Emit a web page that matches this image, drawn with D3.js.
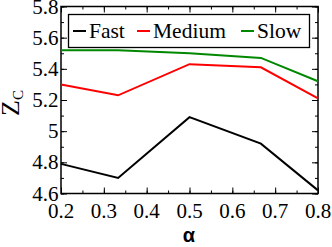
<!DOCTYPE html>
<html>
<head>
<meta charset="utf-8">
<script src="https://cdn.jsdelivr.net/npm/d3@7"></script>
<style>
  body { margin: 0; background: #fff; }
</style>
</head>
<body>
<svg id="chart" width="332" height="247" font-family="Liberation Serif"></svg>
<script>
// data
var alphas = [0.2, 1 / 3, 0.5, 2 / 3, 0.8]
var fast = [4.79, 4.70, 5.09, 4.92, 4.62]
var medium = [5.30, 5.23, 5.43, 5.41, 5.21]
var slow = [5.52, 5.52, 5.50, 5.47, 5.32]
var seriesNames = ['Fast', 'Medium', 'Slow']
var seriesColors = ['#000000', '#ff0000', '#008800']
var xTicks = [0.2, 0.3, 0.4, 0.5, 0.6, 0.7, 0.8]
var yTicks = [4.6, 4.8, 5, 5.2, 5.4, 5.6, 5.8]

var serif = 'Liberation Serif'

function draw() {
  var svg = d3.select('#chart')
  var x0 = 61, x1 = 318, y0 = 6.5, y1 = 193.5

  var x = d3.scaleLinear().domain([0.2, 0.8]).range([x0, x1])
  var y = d3.scaleLinear().domain([4.6, 5.8]).range([y1, y0])

  // minor ticks
  var xMinor = d3.range(0.2, 0.8001, 0.05)
  var yMinor = d3.range(4.6, 5.8001, 0.1)

  function tickAxis(axis, ticks, size) {
    return axis.tickValues(ticks).tickSize(size).tickFormat('')
  }

  var g = svg.append('g')

  // inward ticks on all four sides
  g.append('g').attr('transform', 'translate(0,' + y1 + ')')
    .call(tickAxis(d3.axisTop(x), xMinor, 3))
  g.append('g').attr('transform', 'translate(0,' + y1 + ')')
    .call(tickAxis(d3.axisTop(x), xTicks, 6))
  g.append('g').attr('transform', 'translate(0,' + y0 + ')')
    .call(tickAxis(d3.axisBottom(x), xMinor, 3))
  g.append('g').attr('transform', 'translate(0,' + y0 + ')')
    .call(tickAxis(d3.axisBottom(x), xTicks, 6))
  g.append('g').attr('transform', 'translate(' + x0 + ',0)')
    .call(tickAxis(d3.axisRight(y), yMinor, 3))
  g.append('g').attr('transform', 'translate(' + x0 + ',0)')
    .call(tickAxis(d3.axisRight(y), yTicks, 6))
  g.append('g').attr('transform', 'translate(' + x1 + ',0)')
    .call(tickAxis(d3.axisLeft(y), yMinor, 3))
  g.append('g').attr('transform', 'translate(' + x1 + ',0)')
    .call(tickAxis(d3.axisLeft(y), yTicks, 6))
  g.selectAll('.domain').remove()
  g.selectAll('.tick line').attr('stroke', '#000').attr('stroke-width', 1)

  // frame
  svg.append('rect')
    .attr('x', x0).attr('y', y0)
    .attr('width', x1 - x0).attr('height', y1 - y0)
    .attr('fill', 'none').attr('stroke', '#000').attr('stroke-width', 1.5)

  // tick labels
  svg.selectAll('.xlab').data(xTicks).enter().append('text')
    .attr('x', function (d) { return x(d) })
    .attr('y', 217.5)
    .attr('text-anchor', 'middle')
    .attr('font-family', serif)
    .attr('font-size', 21)
    .text(function (d) { return d3.format('.1f')(d) })

  svg.selectAll('.ylab').data(yTicks).enter().append('text')
    .attr('x', 58.5)
    .attr('y', function (d) { return y(d) + 7 })
    .attr('text-anchor', 'end')
    .attr('font-family', serif)
    .attr('font-size', 21)
    .text(function (d) { return d === 5 ? '5' : d3.format('.1f')(d) })

  // lines
  var line = d3.line()
    .x(function (d, i) { return x(alphas[i]) })
    .y(function (d) { return y(d) })

  ;[fast, medium, slow].forEach(function (s, i) {
    svg.append('path')
      .datum(s)
      .attr('d', line)
      .attr('fill', 'none')
      .attr('stroke', seriesColors[i])
      .attr('stroke-width', 2)
  })

  // legend
  var legend = svg.append('g')
  legend.append('rect')
    .attr('x', 68.5).attr('y', 14.5)
    .attr('width', 241).attr('height', 33)
    .attr('fill', '#fff').attr('stroke', '#000').attr('stroke-width', 1.3)

  var legendX = [73, 137, 241]
  seriesNames.forEach(function (name, i) {
    legend.append('line')
      .attr('x1', legendX[i]).attr('x2', legendX[i] + 13)
      .attr('y1', 31).attr('y2', 31)
      .attr('stroke', seriesColors[i]).attr('stroke-width', 2)
    legend.append('text')
      .attr('x', legendX[i] + 16)
      .attr('y', 38)
      .attr('font-family', serif)
      .attr('font-size', 21.5)
      .text(name)
  })

  // axis titles
  var yTitle = svg.append('text')
    .attr('transform', 'translate(19,103) rotate(-90)')
    .attr('text-anchor', 'middle')
    .attr('font-family', serif)
    .attr('font-size', 26)
  yTitle.append('tspan').text('Z')
  yTitle.append('tspan').attr('font-size', 15).attr('dy', 4).text('C')

  svg.append('text')
    .attr('x', 189)
    .attr('y', 242)
    .attr('text-anchor', 'middle')
    .attr('font-family', 'Liberation Sans')
    .attr('font-weight', 'bold')
    .attr('font-size', 20)
    .text('α')
}

draw()
</script>
</body>
</html>
